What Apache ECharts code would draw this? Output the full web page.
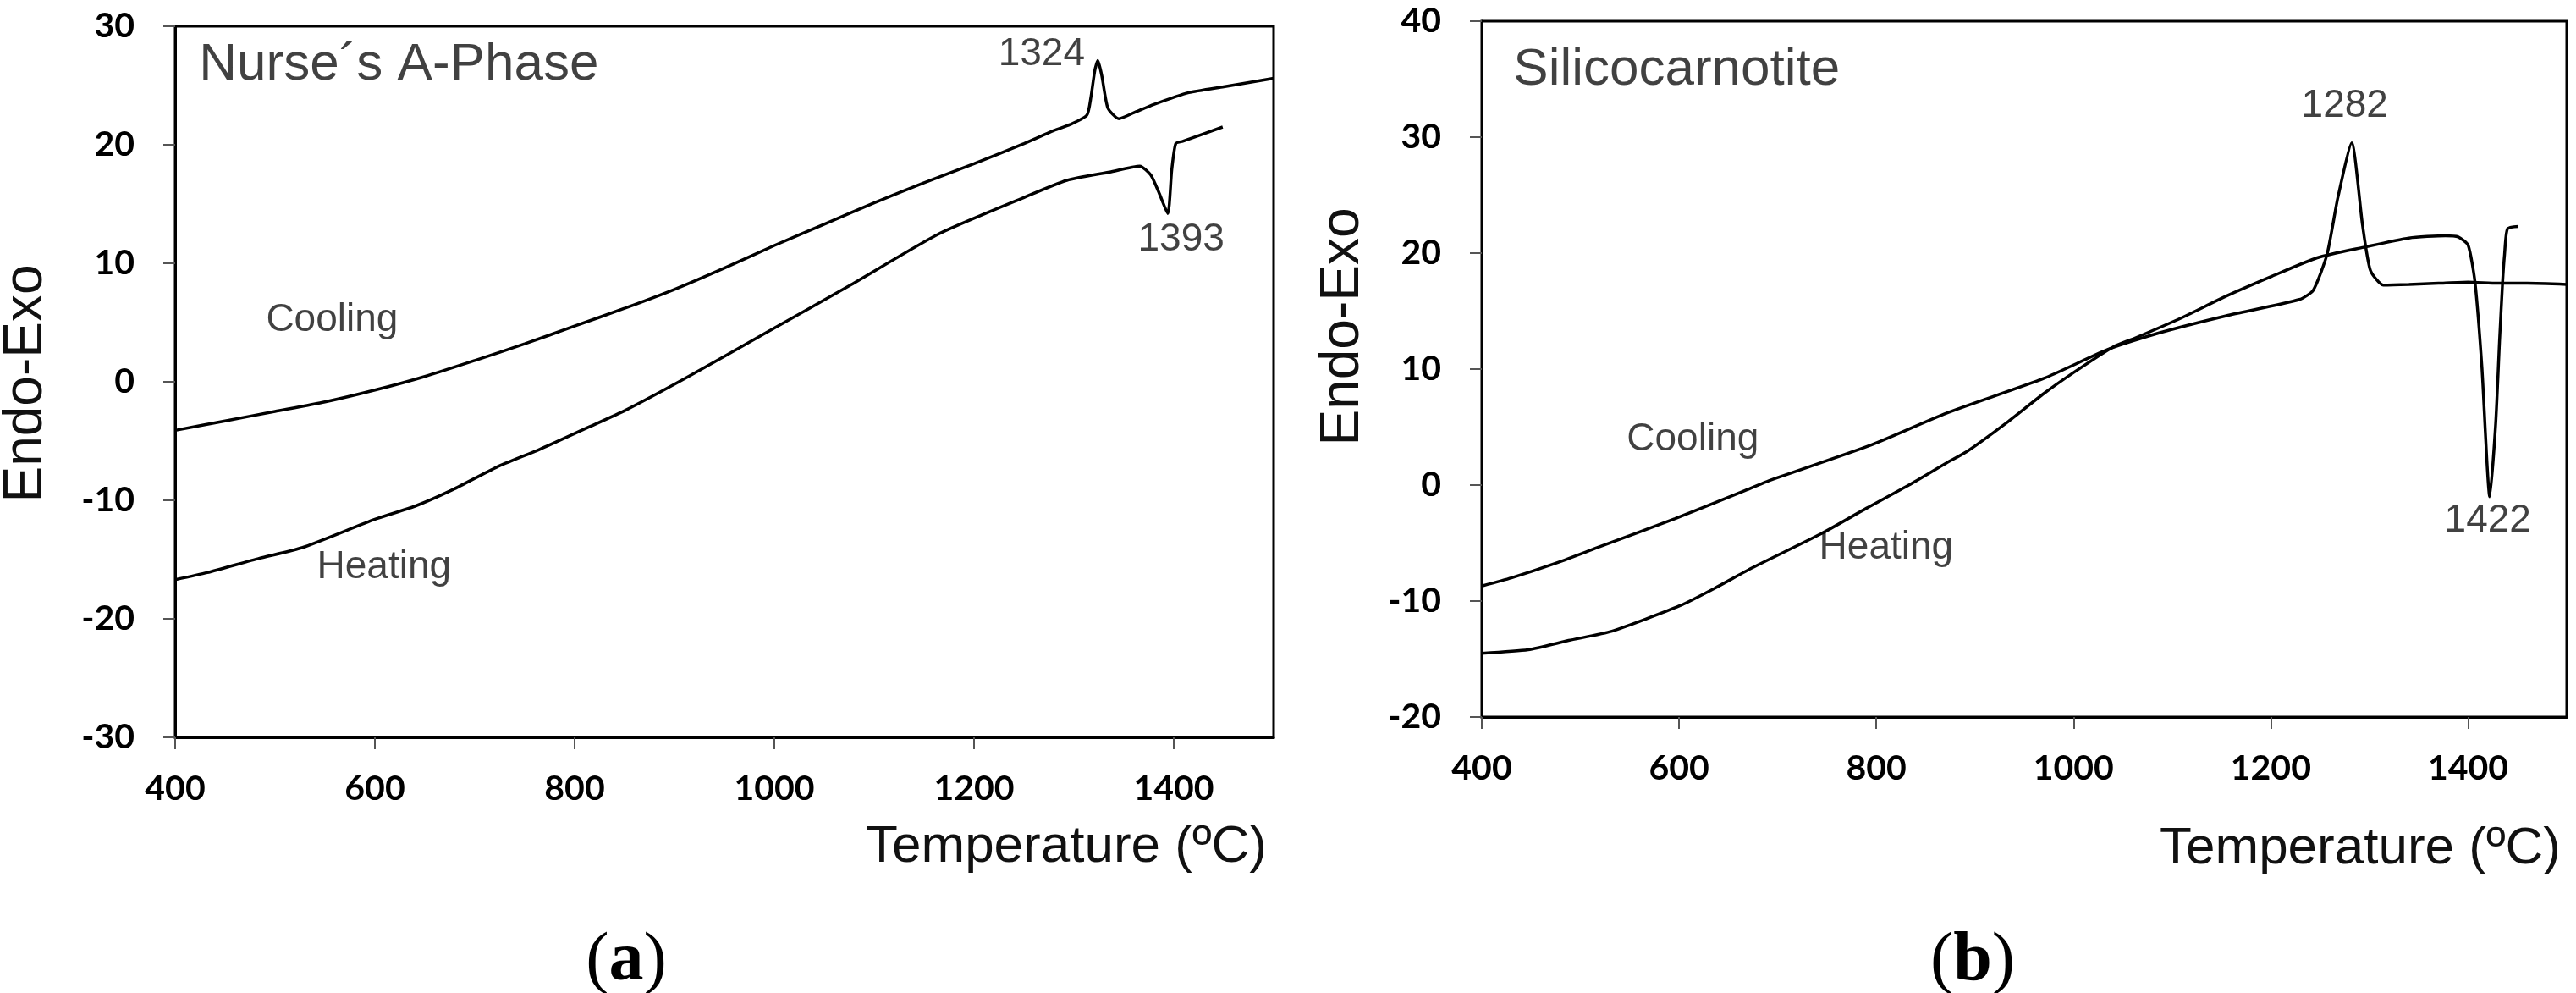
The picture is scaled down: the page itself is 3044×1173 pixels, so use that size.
<!DOCTYPE html>
<html>
<head>
<meta charset="utf-8">
<script src="https://cdn.jsdelivr.net/npm/echarts@6.0.0/dist/echarts.min.js"></script>
<style>
  html, body { margin: 0; padding: 0; background: #fff; }
  #main { width: 3044px; height: 1173px; }
</style>
</head>
<body>
<div id="main"></div>
<script>
// (a) Nurse's A-Phase
const coolA_T = [400, 450, 500, 550, 600, 650, 700, 750, 800, 850, 900, 950, 1000, 1050, 1100, 1150, 1200, 1250, 1280, 1296, 1313, 1317, 1321, 1324, 1328, 1334, 1345, 1360, 1380, 1415, 1450, 1500];
const coolA_V = [-4.1, -3.3, -2.5, -1.7, -0.7, 0.45, 1.8, 3.2, 4.7, 6.2, 7.8, 9.6, 11.5, 13.3, 15.1, 16.8, 18.4, 20.1, 21.2, 21.7, 22.5, 24.0, 26.3, 27.1, 25.8, 23.1, 22.2, 22.7, 23.4, 24.4, 24.9, 25.6];
const heatA_T = [400, 432, 484, 527, 600, 640, 678, 722, 765, 812, 851, 911, 991, 1077, 1164, 1250, 1293, 1336, 1366, 1377, 1385, 1394, 1398, 1402, 1409, 1449];
const heatA_V = [-16.7, -16.1, -14.9, -14.0, -11.6, -10.5, -9.1, -7.2, -5.7, -3.9, -2.4, 0.3, 4.1, 8.2, 12.45, 15.55, 17.0, 17.7, 18.2, 17.45, 16.0, 14.2, 17.9, 20.1, 20.3, 21.5];

// (b) Silicocarnotite
const coolB_T = [400, 430, 473, 517, 596, 666, 694, 793, 871, 970, 1035, 1086, 1155, 1229, 1243, 1257, 1268, 1282, 1293, 1301, 1314, 1340, 1370, 1400, 1430, 1460, 1500];
const coolB_V = [-8.7, -8.0, -6.8, -5.4, -2.9, -0.5, 0.46, 3.4, 6.2, 9.2, 11.7, 13.1, 14.6, 16.0, 16.8, 19.9, 24.8, 29.5, 22.4, 18.5, 17.25, 17.3, 17.4, 17.5, 17.4, 17.4, 17.3];
const heatB_T = [400, 447, 488, 532, 601, 636, 675, 744, 790, 833, 871, 892, 931, 970, 1000, 1040, 1063, 1109, 1155, 1201, 1247, 1294, 1340, 1377, 1390, 1400, 1407, 1414, 1422, 1428, 1432, 1435, 1437, 1440, 1451];
const heatB_V = [-14.5, -14.2, -13.4, -12.6, -10.4, -8.9, -7.1, -4.2, -2.0, 0.0, 1.9, 2.9, 5.3, 7.9, 9.7, 11.9, 12.7, 14.4, 16.3, 18.0, 19.6, 20.5, 21.3, 21.5, 21.4, 20.7, 17.5, 10.2, -1.0, 5.3, 12.6, 17.5, 19.9, 22.1, 22.3];

// axes
const xTicks = [400, 1500, 200];
const yTicksA = [-30, 30, 10];
const yTicksB = [-20, 40, 10];

// in-plot texts, anchored at data coordinates
const notesA = [
  { text: 'Nurse´s A-Phase', at: [424, 26.75], align: 'left', size: 62 },
  { text: 'Cooling', at: [491, 5.2], align: 'left', size: 46 },
  { text: 'Heating', at: [542, -15.7], align: 'left', size: 46 },
  { text: '1324', at: [1311, 27.6], align: 'right', size: 46 },
  { text: '1393', at: [1364, 12.0], align: 'left', size: 46 }
];
const notesB = [
  { text: 'Silicocarnotite', at: [432, 35.8], align: 'left', size: 62 },
  { text: 'Cooling', at: [547, 3.9], align: 'left', size: 46 },
  { text: 'Heating', at: [742, -5.4], align: 'left', size: 46 },
  { text: '1282', at: [1275, 32.7], align: 'center', size: 46 },
  { text: '1422', at: [1420, -3.1], align: 'center', size: 46 }
];

const pairs = (t, v) => t.map((x, i) => [x, v[i]]);

const SANS = "'Liberation Sans', Arial, sans-serif";
const TICK_FONT = "Lato, 'Liberation Sans', sans-serif";

function xAxisFor(idx) {
  return {
    type: 'value', gridIndex: idx,
    min: xTicks[0], max: xTicks[1], interval: xTicks[2],
    axisLine: { show: true, onZero: false, lineStyle: { color: '#000', width: 3 } },
    axisTick: { show: true, inside: false, length: 14, lineStyle: { color: '#555', width: 2 } },
    axisLabel: { showMaxLabel: false, margin: 40, color: '#000', fontSize: 41, fontWeight: 'bold',
      fontFamily: TICK_FONT, formatter: v => String(v) },
    splitLine: { show: false }
  };
}
function yAxisFor(idx, ticks) {
  return {
    type: 'value', gridIndex: idx,
    min: ticks[0], max: ticks[1], interval: ticks[2],
    axisLine: { show: true, onZero: false, lineStyle: { color: '#000', width: 3 } },
    axisTick: { show: true, inside: false, length: 14, lineStyle: { color: '#555', width: 2 } },
    axisLabel: { margin: 48, color: '#000', fontSize: 41, fontWeight: 'bold', fontFamily: TICK_FONT,
      formatter: v => String(v) },
    splitLine: { show: false }
  };
}
function curve(idx, t, v) {
  return {
    type: 'line', xAxisIndex: idx, yAxisIndex: idx,
    data: pairs(t, v), showSymbol: false, smooth: 0.2,
    lineStyle: { color: '#000', width: 3.5 }, silent: true, animation: false
  };
}
function notes(idx, list) {
  return {
    type: 'scatter', xAxisIndex: idx, yAxisIndex: idx, symbolSize: 0, silent: true, animation: false,
    data: list.map(n => ({
      value: n.at,
      label: {
        show: true, position: [0, 0], formatter: n.text, align: n.align, verticalAlign: 'middle',
        fontSize: n.size, fontFamily: SANS, color: '#111'
      }
    }))
  };
}

const chart = echarts.init(document.getElementById('main'), null, { renderer: 'canvas' });
chart.setOption({
  backgroundColor: '#fff',
  animation: false,
  grid: [
    { left: 207, top: 31, width: 1298, height: 840, show: true, borderColor: '#000', borderWidth: 3 },
    { left: 1751, top: 25, width: 1282, height: 822, show: true, borderColor: '#000', borderWidth: 3 }
  ],
  xAxis: [xAxisFor(0), xAxisFor(1)],
  yAxis: [yAxisFor(0, yTicksA), yAxisFor(1, yTicksB)],
  series: [
    curve(0, coolA_T, coolA_V),
    curve(0, heatA_T, heatA_V),
    curve(1, coolB_T, coolB_V),
    curve(1, heatB_T, heatB_V),
    notes(0, notesA),
    notes(1, notesB)
  ],
  graphic: [
    { type: 'text', x: 31, y: 453, rotation: Math.PI / 2,
      style: { text: 'Endo-Exo', fontSize: 64, fontFamily: SANS, fill: '#111', align: 'center', verticalAlign: 'middle' } },
    { type: 'text', x: 1587, y: 386, rotation: Math.PI / 2,
      style: { text: 'Endo-Exo', fontSize: 64, fontFamily: SANS, fill: '#111', align: 'center', verticalAlign: 'middle' } },
    { type: 'text', x: 1497, y: 1001,
      style: { text: 'Temperature (ºC)', fontSize: 62, fontFamily: SANS, fill: '#111', align: 'right', verticalAlign: 'middle' } },
    { type: 'text', x: 3026, y: 1003,
      style: { text: 'Temperature (ºC)', fontSize: 62, fontFamily: SANS, fill: '#111', align: 'right', verticalAlign: 'middle' } },
    { type: 'text', x: 740, y: 1136,
      style: { text: '{p|(}{b|a}{p|)}', align: 'center', verticalAlign: 'middle',
        rich: { p: { fontSize: 82, fontFamily: "'Liberation Serif', serif", fill: '#000' },
                b: { fontSize: 82, fontFamily: "'Liberation Serif', serif", fontWeight: 'bold', fill: '#000' } } } },
    { type: 'text', x: 2331, y: 1136,
      style: { text: '{p|(}{b|b}{p|)}', align: 'center', verticalAlign: 'middle',
        rich: { p: { fontSize: 82, fontFamily: "'Liberation Serif', serif", fill: '#000' },
                b: { fontSize: 82, fontFamily: "'Liberation Serif', serif", fontWeight: 'bold', fill: '#000' } } } }
  ]
});
</script>
</body>
</html>
